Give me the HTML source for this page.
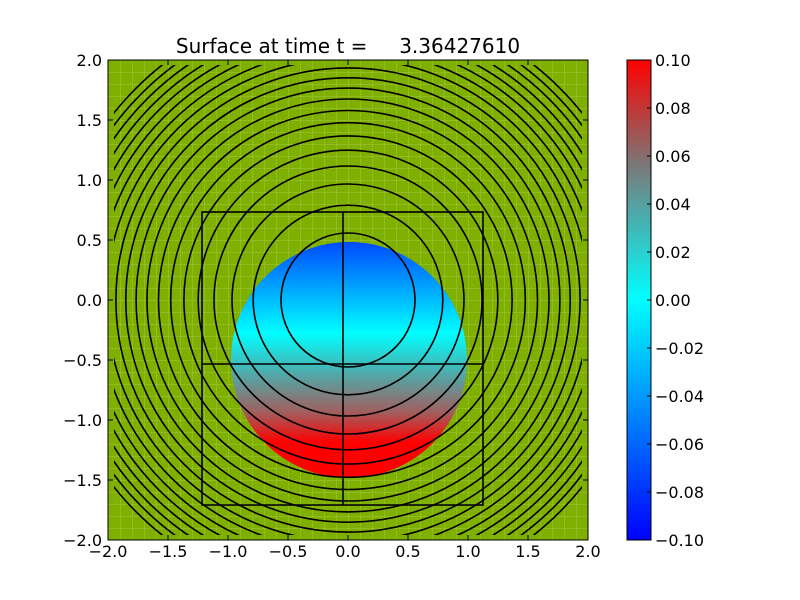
<!DOCTYPE html>
<html><head><meta charset="utf-8"><style>
html,body{margin:0;padding:0;background:#fff;width:800px;height:600px;overflow:hidden;}
svg{display:block;font-family:"DejaVu Sans","Liberation Sans",sans-serif;}
</style></head><body>
<svg width="800" height="600" viewBox="0 0 800 600" xmlns="http://www.w3.org/2000/svg">
<defs>
<pattern id="grid" width="12" height="12" patternUnits="userSpaceOnUse" x="108" y="60">
<path d="M0 0H12M0 0V12" stroke="#b8d870" stroke-width="1" opacity="0.6" fill="none"/>
</pattern>
<linearGradient id="wet" x1="0" y1="241" x2="0" y2="478" gradientUnits="userSpaceOnUse">
<stop offset="0" stop-color="#0048ff"/>
<stop offset="0.39" stop-color="#00ffff"/>
<stop offset="0.58" stop-color="#5aa0a0"/>
<stop offset="0.72" stop-color="#a06060"/>
<stop offset="0.85" stop-color="#ff0000"/>
<stop offset="1" stop-color="#ff0000"/>
</linearGradient>
<linearGradient id="cb" x1="0" y1="1" x2="0" y2="0">
<stop offset="0" stop-color="#0000ff"/>
<stop offset="0.5" stop-color="#00ffff"/>
<stop offset="0.7" stop-color="#56a0a0"/>
<stop offset="0.78" stop-color="#7a7878"/>
<stop offset="1" stop-color="#ff0000"/>
</linearGradient>
<clipPath id="cc"><rect x="114" y="65" width="468" height="470"/></clipPath>
</defs>
<rect x="108" y="60" width="480" height="480" fill="#7fb000"/>
<rect x="108" y="60" width="480" height="480" fill="url(#grid)"/>
<circle cx="349" cy="360" r="118" fill="url(#wet)"/>
<g clip-path="url(#cc)" fill="none" stroke="#000" stroke-width="1.6">
<circle cx="348" cy="300" r="67"/><circle cx="348" cy="300" r="94.8"/><circle cx="348" cy="300" r="116"/>
<circle cx="348" cy="300" r="134"/><circle cx="348" cy="300" r="149.8"/><circle cx="348" cy="300" r="164.1"/>
<circle cx="348" cy="300" r="177.3"/><circle cx="348" cy="300" r="189.5"/><circle cx="348" cy="300" r="201"/>
<circle cx="348" cy="300" r="211.9"/><circle cx="348" cy="300" r="222.2"/><circle cx="348" cy="300" r="232.1"/>
<circle cx="348" cy="300" r="241.6"/><circle cx="348" cy="300" r="250.7"/><circle cx="348" cy="300" r="259.5"/>
<circle cx="348" cy="300" r="268"/><circle cx="348" cy="300" r="276.2"/><circle cx="348" cy="300" r="284.3"/>
<circle cx="348" cy="300" r="292"/><circle cx="348" cy="300" r="299.6"/>
</g>
<g fill="none" stroke="#000" stroke-width="1.6">
<rect x="202" y="212" width="281" height="293"/>
<line x1="343" y1="212" x2="343" y2="505"/>
<line x1="202" y1="364" x2="483" y2="364"/>
</g>
<rect x="108" y="60" width="480" height="480" fill="none" stroke="#000" stroke-width="1"/>
<g stroke="#000" stroke-width="1">
<path d="M108 540v-5M168 540v-5M228 540v-5M288 540v-5M348 540v-5M408 540v-5M468 540v-5M528 540v-5M588 540v-5"/>
<path d="M108 60v5M168 60v5M228 60v5M288 60v5M348 60v5M408 60v5M468 60v5M528 60v5M588 60v5"/>
<path d="M108 60h5M108 120h5M108 180h5M108 240h5M108 300h5M108 360h5M108 420h5M108 480h5M108 540h5"/>
<path d="M588 60h-5M588 120h-5M588 180h-5M588 240h-5M588 300h-5M588 360h-5M588 420h-5M588 480h-5M588 540h-5"/>
</g>
<g font-size="16" fill="#000" text-anchor="middle">
<text x="108" y="557">−2.0</text><text x="168" y="557">−1.5</text><text x="228" y="557">−1.0</text>
<text x="288" y="557">−0.5</text><text x="348" y="557">0.0</text><text x="408" y="557">0.5</text>
<text x="468" y="557">1.0</text><text x="528" y="557">1.5</text><text x="588" y="557">2.0</text>
</g>
<g font-size="16" fill="#000" text-anchor="end">
<text x="102" y="66">2.0</text><text x="102" y="126">1.5</text><text x="102" y="186">1.0</text>
<text x="102" y="246">0.5</text><text x="102" y="306">0.0</text><text x="102" y="366">−0.5</text>
<text x="102" y="426">−1.0</text><text x="102" y="486">−1.5</text><text x="102" y="546">−2.0</text>
</g>
<text x="348" y="53" font-size="20" text-anchor="middle" xml:space="preserve">Surface at time t =     3.36427610</text>
<rect x="627" y="60" width="24" height="480" fill="url(#cb)" stroke="#000" stroke-width="1"/>
<g stroke="#000" stroke-width="1">
<path d="M651 60h-4M651 108h-4M651 156h-4M651 204h-4M651 252h-4M651 300h-4M651 348h-4M651 396h-4M651 444h-4M651 492h-4M651 540h-4"/>
</g>
<g font-size="16" fill="#000">
<text x="655" y="66">0.10</text><text x="655" y="114">0.08</text><text x="655" y="162">0.06</text>
<text x="655" y="210">0.04</text><text x="655" y="258">0.02</text><text x="655" y="306">0.00</text>
<text x="655" y="354">−0.02</text><text x="655" y="402">−0.04</text><text x="655" y="450">−0.06</text>
<text x="655" y="498">−0.08</text><text x="655" y="546">−0.10</text>
</g>
</svg>
</body></html>
